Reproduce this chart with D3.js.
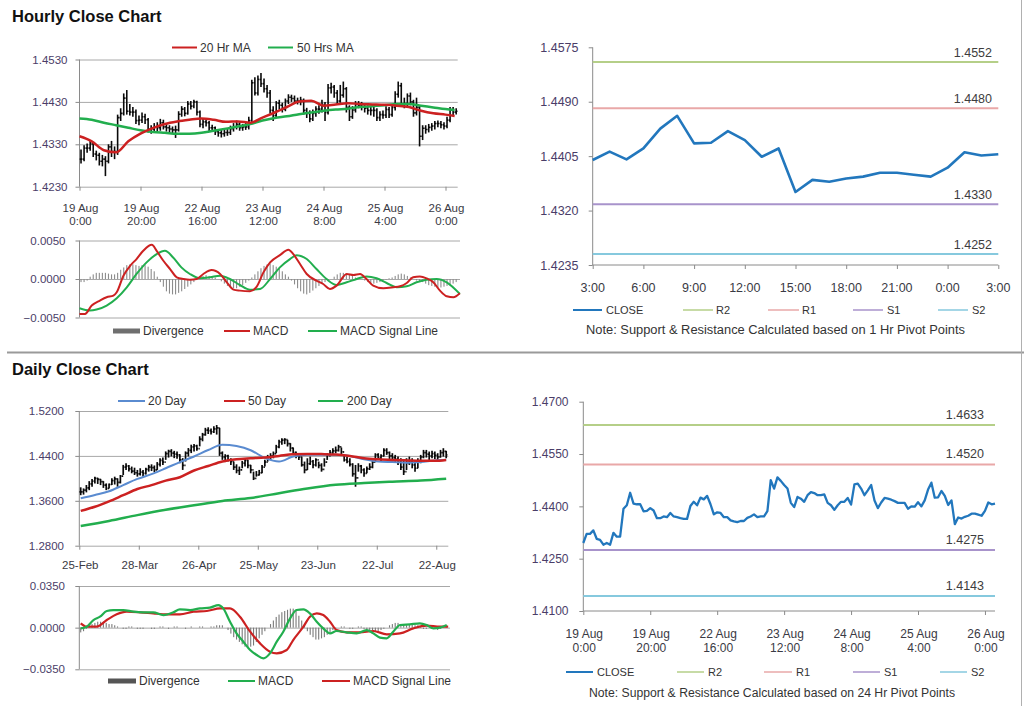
<!DOCTYPE html>
<html><head><meta charset="utf-8">
<script src="https://cdn.jsdelivr.net/npm/d3@7"></script>
<style>body{margin:0;background:#fff}svg{display:block}</style>
</head><body>
<svg id="chart" width="1024" height="706"></svg>
<script>
// ---------------- DATA ----------------
// Hourly (19 Aug 0:00 .. 26 Aug 3:00), 124 bars
const hourTickIdx = [0,20,40,60,80,100,120];
const hourLab1 = ["19 Aug","19 Aug","22 Aug","23 Aug","24 Aug","25 Aug","26 Aug"];
const hourLab2 = ["0:00","20:00","16:00","12:00","8:00","4:00","0:00"];
const hClose = [1.4295,1.4321,1.4321,1.4331,1.4307,1.4304,1.4290,1.4295,1.4290,1.4324,
1.4313,1.4313,1.4393,1.4403,1.4439,1.4408,1.4406,1.4406,1.4386,1.4387,
1.4395,1.4388,1.4366,1.4366,1.4371,1.4369,1.4381,1.4371,1.4369,1.4366,
1.4364,1.4364,1.4401,1.4413,1.4403,1.4425,1.4420,1.4430,1.4406,1.4377,
1.4383,1.4381,1.4369,1.4369,1.4360,1.4357,1.4355,1.4358,1.4358,1.4367,
1.4371,1.4377,1.4369,1.4371,1.4371,1.4386,1.4475,1.4451,1.4483,1.4473,
1.4461,1.4451,1.4410,1.4398,1.4427,1.4422,1.4413,1.4432,1.4441,1.4438,
1.4432,1.4432,1.4434,1.4410,1.4403,1.4390,1.4403,1.4413,1.4413,1.4424,
1.4405,1.4463,1.4465,1.4451,1.4432,1.4446,1.4461,1.4417,1.4395,1.4411,
1.4424,1.4422,1.4419,1.4415,1.4410,1.4410,1.4410,1.4393,1.4400,
1.4399,1.4412,1.4400,1.4417,1.4448,1.4468,1.4425,1.4426,1.4444,1.4430,1.4404,1.4417,1.4349,1.4368,1.4365,1.4370,1.4373,1.4379,1.4379,1.4376,1.4373,1.4387,1.4411,1.4406,1.4408];
const hHigh = [1.4318,1.4328,1.4332,1.4338,1.4335,1.4315,1.4310,1.4305,1.4302,1.4330,
1.4338,1.4325,1.4400,1.4415,1.4450,1.4458,1.4425,1.4418,1.4412,1.4398,
1.4405,1.4402,1.4392,1.4375,1.4380,1.4382,1.4390,1.4388,1.4378,1.4375,
1.4372,1.4374,1.4408,1.4420,1.4418,1.4432,1.4432,1.4435,1.4433,1.4410,
1.4392,1.4390,1.4385,1.4376,1.4372,1.4366,1.4364,1.4366,1.4368,1.4374,
1.4380,1.4386,1.4382,1.4378,1.4380,1.4395,1.4482,1.4488,1.4492,1.4498,
1.4485,1.4470,1.4458,1.4420,1.4432,1.4435,1.4428,1.4438,1.4448,1.4447,
1.4445,1.4440,1.4442,1.4438,1.4416,1.4410,1.4412,1.4420,1.4422,1.4435,
1.4430,1.4472,1.4475,1.4470,1.4458,1.4470,1.4478,1.4465,1.4422,1.4420,
1.4432,1.4432,1.4430,1.4426,1.4422,1.4420,1.4418,1.4415,1.4408,1.4410,
1.4420,1.4418,1.4425,1.4455,1.4478,1.4475,1.4440,1.4450,1.4452,1.4435,
1.4440,1.4420,1.4375,1.4375,1.4378,1.4380,1.4385,1.4386,1.4385,1.4382,
1.4395,1.4418,1.4418,1.4415];
const hLow = [1.4285,1.4290,1.4310,1.4315,1.4300,1.4292,1.4280,1.4278,1.4255,1.4285,
1.4300,1.4295,1.4305,1.4385,1.4398,1.4400,1.4398,1.4395,1.4378,1.4375,
1.4380,1.4378,1.4358,1.4355,1.4360,1.4360,1.4362,1.4365,1.4360,1.4356,
1.4355,1.4345,1.4360,1.4395,1.4396,1.4400,1.4412,1.4415,1.4398,1.4370,
1.4368,1.4372,1.4360,1.4360,1.4352,1.4348,1.4346,1.4348,1.4350,1.4352,
1.4360,1.4365,1.4362,1.4362,1.4364,1.4365,1.4380,1.4445,1.4445,1.4465,
1.4452,1.4440,1.4402,1.4385,1.4392,1.4412,1.4405,1.4408,1.4425,1.4430,
1.4425,1.4424,1.4422,1.4400,1.4392,1.4382,1.4385,1.4395,1.4402,1.4405,
1.4385,1.4400,1.4450,1.4440,1.4425,1.4428,1.4440,1.4405,1.4385,1.4390,
1.4405,1.4415,1.4410,1.4405,1.4400,1.4398,1.4395,1.4385,1.4385,1.4390,
1.4392,1.4392,1.4395,1.4410,1.4440,1.4418,1.4415,1.4420,1.4422,1.4395,
1.4398,1.4325,1.4340,1.4355,1.4358,1.4362,1.4365,1.4370,1.4368,1.4365,
1.4368,1.4382,1.4398,1.4400];
const hMaIdx = [0,4,8,12,16,20,24,28,32,36,40,44,48,52,56,60,64,68,72,76,80,84,88,92,96,100,104,108,112,116,120,123];
const hMa20 = [1.4349,1.4337,1.4316,1.4311,1.4337,1.4355,1.4368,1.4378,1.4384,1.4388,1.4391,1.4388,1.4383,1.4384,1.4381,1.4393,1.4405,1.4418,1.4431,1.4433,1.4421,1.4424,1.4427,1.4425,1.4424,1.4423,1.4421,1.4418,1.4409,1.4403,1.4400,1.4397];
const hMa50 = [1.4391,1.4388,1.4381,1.4375,1.4369,1.4363,1.4359,1.4357,1.4355,1.4355,1.4357,1.4362,1.4367,1.4372,1.4378,1.4386,1.4392,1.4396,1.4401,1.4405,1.4409,1.4412,1.4414,1.4418,1.4420,1.4422,1.4425,1.4425,1.4421,1.4417,1.4413,1.4411];
const hMacdIdx = [0,1.8,4,6.7,8.9,11.1,12.2,14.4,16.6,18.7,20.9,23.7,25.3,27.5,29.7,31.9,34.1,36.2,38.4,40.6,43.3,46.1,48.3,50.5,52.6,55.9,58.1,60.3,62.5,65.7,68.5,70.1,72.3,74.5,77.7,79.9,82.1,84.3,87.6,89.8,92,94.1,96.3,99.6,102.9,105.1,107.3,109.4,111.6,113.8,116,118.2,120.4,122.6,124.7];
const hMacd = [-0.00453,-0.00453,-0.00345,-0.00280,-0.00237,-0.00216,-0.00172,0.00043,0.00172,0.00259,0.00366,0.00444,0.00366,0.00237,0.00129,0.00022,0,-0.00009,0,0.00065,0.00116,0.00065,-0.00043,-0.00138,-0.00151,-0.00159,-0.00099,0.00086,0.00216,0.00310,0.00379,0.00323,0.00194,0.00065,-0.00022,-0.00065,-0.00129,-0.00086,0.00065,0.00052,0.00065,0,-0.00086,-0.00121,-0.00108,-0.00095,-0.00052,0.00022,0.00034,0.00009,-0.00043,-0.00151,-0.00224,-0.00237,-0.00185];
const hSigIdx = [0,3.4,5.6,8.9,12.2,15.5,18.7,22,25.3,28,30.7,33.4,36.2,39.5,42.8,46.1,49.3,52.6,55.9,59.2,62.5,65.7,69,71.2,74.5,77.7,81,84.3,87.6,90.9,94.1,97.4,100.7,104,107.3,110.5,113.8,117.1,120.4,124.7];
const hSignal = [-0.00379,-0.00409,-0.00397,-0.00345,-0.00250,-0.00108,0.00065,0.00216,0.00323,0.00366,0.00280,0.00151,0.00065,0.00009,0.00022,0.00043,0,-0.00078,-0.00138,-0.00129,0,0.00151,0.00259,0.00310,0.00259,0.00129,0,-0.00078,-0.00043,0,0.00034,0.00009,-0.00052,-0.00108,-0.00095,-0.00043,-0.00009,0,-0.00043,-0.00194];
const hDiv = [-0.0004,-0.0004,-0.0002,0.0003,0.0006,0.0008,0.0008,0.0008,0.0008,0.0007,0.0006,0.0006,0.0008,
0.0012,0.0015,0.0018,0.0019,0.0019,0.0018,0.0017,0.0018,0.0018,0.0016,0.0013,0.0010,0.0003,-0.0004,
-0.0010,-0.0016,-0.0019,-0.0020,-0.0020,-0.0018,-0.0016,-0.0013,-0.0010,-0.0007,-0.0004,
0.0001,0.0003,0.0004,0.0005,0.0004,0.0003,0.0002,0.0000,
-0.0003,-0.0006,-0.0009,-0.0011,-0.0012,-0.0012,-0.0010,-0.0008,-0.0005,-0.0002,0.0002,
0.0006,0.0010,0.0014,0.0017,0.0019,0.0020,0.0018,0.0016,0.0013,0.0010,0.0006,0.0003,
-0.0002,-0.0007,-0.0012,-0.0016,-0.0019,-0.0020,-0.0018,-0.0015,-0.0012,-0.0009,-0.0006,-0.0004,-0.0002,
0.0000,0.0003,0.0006,0.0008,0.0008,0.0007,0.0006,0.0004,0.0002,0.0001,0.0000,
-0.0002,-0.0004,-0.0005,-0.0006,-0.0005,-0.0004,-0.0002,-0.0001,
0.0001,0.0002,0.0004,0.0006,0.0007,0.0006,0.0004,0.0002,
0.0000,-0.0002,-0.0003,-0.0004,-0.0006,-0.0008,-0.0009,-0.0010,-0.0011,-0.0011,-0.0010,-0.0009,-0.0008,-0.0006,-0.0004];

// 1-hour pivot chart (25 Aug 3:00 .. 26 Aug 3:00)
const pivotHourLabels = ["3:00","6:00","9:00","12:00","15:00","18:00","21:00","0:00","3:00"];
const hourLevels = [{n:"R2",v:1.4552},{n:"R1",v:1.4480},{n:"S1",v:1.4330},{n:"S2",v:1.4252}];
const dayLevels = [{n:"R2",v:1.4633},{n:"R1",v:1.4520},{n:"S1",v:1.4275},{n:"S2",v:1.4143}];

// Daily (25 Feb .. 26 Aug), 130 bars
const dayTickIdx = [0,21,42,63,84,105,126];
const dayLabels = ["25-Feb","28-Mar","26-Apr","25-May","23-Jun","22-Jul","22-Aug"];
const dHigh = [1.3840,1.3821,1.3881,1.3950,1.3990,1.4030,1.4010,1.3990,1.3950,1.3910,
1.3910,1.4000,1.4030,1.4000,1.4060,1.4240,1.4270,1.4240,1.4210,1.4190,
1.4150,1.4180,1.4150,1.4190,1.4240,1.4250,1.4230,1.4290,1.4360,1.4370,
1.4480,1.4510,1.4520,1.4490,1.4480,1.4430,1.4360,1.4480,1.4540,1.4600,
1.4610,1.4600,1.4750,1.4810,1.4900,1.4910,1.4890,1.4930,1.4950,1.4900,
1.4480,1.4430,1.4420,1.4360,1.4300,1.4250,1.4210,1.4310,1.4360,1.4330,
1.4240,1.4120,1.4130,1.4150,1.4240,1.4330,1.4418,1.4448,1.4478,1.4597,
1.4687,1.4716,1.4716,1.4687,1.4627,1.4550,1.4478,1.4448,1.4388,1.4299,
1.4358,1.4388,1.4328,1.4358,1.4299,1.4269,1.4358,1.4448,1.4507,1.4537,
1.4567,1.4597,1.4550,1.4418,1.4388,1.4358,1.4269,1.4239,1.4269,1.4239,
1.4179,1.4209,1.4269,1.4328,1.4448,1.4448,1.4430,1.4537,1.4537,1.4478,
1.4448,1.4418,1.4388,1.4358,1.4328,1.4358,1.4388,1.4358,1.4299,1.4358,
1.4418,1.4507,1.4507,1.4478,1.4490,1.4478,1.4448,1.4507,1.4537,1.4490];
const dLow = [1.3700,1.3710,1.3750,1.3790,1.3850,1.3910,1.3900,1.3880,1.3830,1.3790,
1.3820,1.3880,1.3890,1.3850,1.3910,1.4060,1.4150,1.4120,1.4090,1.4060,
1.4030,1.4050,1.4030,1.4070,1.4120,1.4130,1.4110,1.4150,1.4210,1.4240,
1.4330,1.4370,1.4390,1.4360,1.4350,1.4270,1.4150,1.4300,1.4390,1.4450,
1.4480,1.4490,1.4570,1.4660,1.4760,1.4790,1.4780,1.4810,1.4780,1.4400,
1.4330,1.4290,1.4300,1.4240,1.4150,1.4090,1.4060,1.4180,1.4210,1.4180,
1.4090,1.3970,1.4030,1.4050,1.4090,1.4210,1.4299,1.4328,1.4358,1.4448,
1.4537,1.4597,1.4610,1.4567,1.4478,1.4418,1.4358,1.4328,1.4209,1.4090,
1.4149,1.4239,1.4179,1.4209,1.4179,1.4119,1.4209,1.4328,1.4388,1.4418,
1.4448,1.4478,1.4418,1.4299,1.4269,1.4209,1.4030,1.3851,1.4119,1.4090,
1.4030,1.4090,1.4149,1.4179,1.4299,1.4328,1.4310,1.4388,1.4418,1.4346,
1.4310,1.4287,1.4239,1.4149,1.4060,1.4149,1.4239,1.4179,1.4119,1.4179,
1.4269,1.4358,1.4370,1.4328,1.4358,1.4346,1.4328,1.4370,1.4388,1.4358];
const dClose = [1.3760,1.3790,1.3830,1.3900,1.3950,1.4000,1.3980,1.3940,1.3880,1.3820,
1.3890,1.3960,1.3990,1.3930,1.4040,1.4200,1.4220,1.4170,1.4130,1.4100,
1.4080,1.4110,1.4090,1.4160,1.4200,1.4190,1.4150,1.4250,1.4320,1.4290,
1.4440,1.4480,1.4450,1.4430,1.4420,1.4330,1.4230,1.4450,1.4500,1.4560,
1.4580,1.4530,1.4700,1.4780,1.4860,1.4850,1.4830,1.4880,1.4900,1.4450,
1.4380,1.4400,1.4330,1.4300,1.4200,1.4140,1.4150,1.4270,1.4320,1.4230,
1.4150,1.4000,1.4060,1.4100,1.4200,1.4290,1.4380,1.4400,1.4440,1.4560,
1.4650,1.4680,1.4690,1.4620,1.4540,1.4460,1.4400,1.4380,1.4240,1.4150,
1.4260,1.4300,1.4240,1.4330,1.4230,1.4160,1.4290,1.4410,1.4460,1.4490,
1.4500,1.4560,1.4470,1.4330,1.4300,1.4250,1.4080,1.4010,1.4220,1.4150,
1.4090,1.4170,1.4200,1.4290,1.4420,1.4360,1.4400,1.4500,1.4460,1.4400,
1.4370,1.4340,1.4290,1.4200,1.4120,1.4280,1.4310,1.4240,1.4180,1.4300,
1.4380,1.4460,1.4430,1.4400,1.4440,1.4410,1.4380,1.4460,1.4480,1.4420];
const dMaIdx = [0,5,10,15,20,25,30,35,40,45,50,55,60,65,70,75,80,85,90,95,100,105,110,115,120,125,129];
const dMa20 = [1.3645,1.3705,1.3770,1.3880,1.3990,1.4075,1.4180,1.4290,1.4390,1.4505,1.4600,1.4575,1.4500,1.4365,1.4300,1.4390,1.4420,1.4420,1.4420,1.4400,1.4340,1.4300,1.4290,1.4280,1.4290,1.4320,1.4330];
const dMa50 = [1.3420,1.3493,1.3590,1.3700,1.3810,1.3880,1.3960,1.4020,1.4140,1.4220,1.4300,1.4340,1.4358,1.4372,1.4400,1.4428,1.4435,1.4432,1.4425,1.4400,1.4360,1.4340,1.4328,1.4320,1.4312,1.4312,1.4328];
const dMa200Idx = [0,10,20,30,40,50,60,70,80,90,100,110,120,129];
const dMa200 = [1.3152,1.3240,1.3345,1.3440,1.3520,1.3598,1.3650,1.3735,1.3820,1.3885,1.3915,1.3940,1.3962,1.3995];
const dMacdIdx = [0,2.1,4.5,6.8,9.2,11.5,15,18.6,22.1,25.6,29.2,32.7,35,38.6,42.1,45.6,48.6,50.3,52.7,55,57.4,59.8,62.1,64.5,66.8,69.2,71.5,73.9,76.2,78.6,80.9,83.3,85.6,88,90.3,93.8,97.4,100.9,103.3,105.6,108,110.3,112.7,116.2,119.7,122.1,124.5,126.8,129.2];
const dMacd = [-0.0006,0.0008,0.0064,0.0092,0.0140,0.0148,0.0148,0.0134,0.0129,0.0129,0.0106,0.0129,0.0154,0.0148,0.0162,0.0168,0.0190,0.0162,0.0050,-0.0048,-0.0118,-0.0188,-0.0230,-0.0258,-0.0216,-0.0118,-0.0034,0.0078,0.0148,0.0154,0.0120,0.0050,-0.0006,-0.0048,-0.0028,-0.0039,-0.0048,-0.0020,-0.0048,-0.0084,-0.0090,-0.0034,0.0022,0.0028,0.0036,0.0022,-0.0006,0,0.0022];
const dSigIdx = [0,2.1,5.6,9.2,12.7,16.2,20.9,25.6,30.3,35,39.8,44.5,49.2,52.7,56.2,59.8,63.3,66.8,69.2,72.7,75,78.6,80.9,83.3,85.6,88,90.3,93.8,98.5,103.3,108,112.7,117.4,122.1,126.8,129.7];
const dSignal = [0.0036,0.0008,0.0008,0.0064,0.0112,0.0134,0.0129,0.0120,0.0112,0.0112,0.0134,0.0140,0.0162,0.0162,0.0092,-0.0034,-0.0132,-0.0202,-0.0216,-0.0188,-0.0104,0.0008,0.0092,0.0120,0.0106,0.0050,-0.0020,-0.0039,-0.0039,-0.0028,-0.0056,-0.0048,-0.0006,0.0017,0.0008,0.0008];
const dDiv = [-0.004,-0.003,-0.001,0.002,0.003,0.004,0.005,0.005,0.005,0.004,0.003,0.003,0.002,0.001,
0.000,-0.001,-0.001,0.001,0.001,0.000,-0.001,-0.001,-0.001,0.000,0.000,-0.001,-0.001,0.000,0.001,0.001,0.000,-0.001,0.000,0.001,0.001,0.000,0.000,-0.001,0.000,0.001,0.000,0.000,0.001,0.001,0.000,0.000,0.001,0.001,0.002,
0.002,0.002,0.000,-0.002,-0.005,-0.008,
-0.010,-0.012,-0.014,-0.016,-0.017,-0.016,-0.015,-0.012,-0.009,-0.006,-0.003,
0.000,0.003,0.006,0.009,0.011,0.013,0.014,0.015,0.016,0.016,0.014,0.010,0.006,0.002,
-0.003,-0.006,-0.008,-0.010,-0.010,-0.009,-0.008,-0.006,-0.004,-0.002,
-0.001,0.000,0.001,0.001,0.000,-0.001,-0.001,0.000,0.001,0.001,
-0.001,-0.002,-0.002,-0.002,-0.003,-0.003,-0.002,-0.001,0.000,0.002,0.003,
0.004,0.004,0.003,0.003,0.002,0.003,0.003,0.002,0.002,0.001,
-0.001,-0.001,0.000,0.001,-0.001,-0.002,-0.001,0.000,0.001];

// ---------------- DRAWING ----------------
const svg = d3.select('#chart');
const FONT = '"Liberation Sans", Arial, Helvetica, sans-serif';
const AXIS = '#8a8a8a', GRID = '#a8a8a8', YLAB = '#4a3d68', XLAB = '#3a3a44', TXT = '#333';
const fmt4 = d3.format('.4f');

function txt(x, y, s, size, fill, anchor, weight) {
  return svg.append('text').attr('x', x).attr('y', y).text(s)
    .attr('font-size', size).attr('fill', fill || TXT)
    .attr('text-anchor', anchor || 'start').attr('font-weight', weight || 'normal')
    .attr('font-family', FONT);
}
function hline(x1, x2, y, color, w) {
  return svg.append('line').attr('x1', x1).attr('x2', x2).attr('y1', y).attr('y2', y)
    .attr('stroke', color).attr('stroke-width', w || 1);
}
function vline(x, y1, y2, color, w) {
  return svg.append('line').attr('x1', x).attr('x2', x).attr('y1', y1).attr('y2', y2)
    .attr('stroke', color).attr('stroke-width', w || 1);
}
function yAxis(scale, vals, x0, gridTo, labelEnd, size) {
  if (gridTo) {
    const gg = svg.append('g').attr('transform', `translate(${x0},0)`)
      .call(d3.axisLeft(scale).tickValues(vals).tickFormat('').tickSize(-(gridTo - x0)));
    gg.select('.domain').remove();
    gg.selectAll('.tick line').attr('stroke', GRID);
  }
  const g = svg.append('g').attr('transform', `translate(${x0},0)`)
    .call(d3.axisLeft(scale).tickValues(vals).tickFormat(fmt4).tickSize(4).tickPadding(x0 - labelEnd - 4));
  g.attr('font-family', FONT).attr('font-size', size);
  g.select('.domain').remove();
  g.selectAll('.tick line').attr('stroke', AXIS);
  g.selectAll('.tick text').attr('fill', YLAB);
  vline(x0, scale.range()[0], scale.range()[1], AXIS, 1);
}
function xTicks(scale, vals, y0) {
  const g = svg.append('g').attr('transform', `translate(0,${y0})`)
    .call(d3.axisBottom(scale).tickValues(vals).tickFormat('').tickSize(4));
  g.select('.domain').remove();
  g.selectAll('.tick line').attr('stroke', AXIS);
}
function ohlc(xs, ys, hi, lo, cl, half, w) {
  const data = cl.map((c, i) => ({ i, c, h: hi[i], l: lo[i], o: i ? cl[i - 1] : c }));
  const g = svg.append('g').attr('stroke', '#0a0a0a').attr('stroke-width', w);
  const b = g.selectAll('g').data(data).join('g');
  b.append('line').attr('x1', d => xs(d.i + 0.5)).attr('x2', d => xs(d.i + 0.5))
    .attr('y1', d => ys(d.h)).attr('y2', d => ys(d.l));
  b.append('line').attr('x1', d => xs(d.i + 0.5) - half).attr('x2', d => xs(d.i + 0.5))
    .attr('y1', d => ys(d.o)).attr('y2', d => ys(d.o));
  b.append('line').attr('x1', d => xs(d.i + 0.5)).attr('x2', d => xs(d.i + 0.5) + half)
    .attr('y1', d => ys(d.c)).attr('y2', d => ys(d.c));
}
function series(xs, ys, idx, vals, color, w, curve) {
  const line = d3.line().x((d, i) => xs(idx[i])).y(d => ys(d)).curve(curve || d3.curveMonotoneX);
  svg.append('path').attr('d', line(vals)).attr('fill', 'none')
    .attr('stroke', color).attr('stroke-width', w).attr('stroke-linejoin', 'round');
}
function histogram(xs, ys, vals, color, w) {
  svg.append('g').selectAll('rect').data(vals).join('rect')
    .attr('x', (d, i) => xs(i + 0.5) - w / 2).attr('width', w)
    .attr('y', d => Math.min(ys(d), ys(0))).attr('height', d => Math.abs(ys(d) - ys(0)))
    .attr('fill', color);
}
function legLine(x1, x2, y, color, w, label, tx, size) {
  hline(x1, x2, y, color, w);
  txt(tx, y + 4, label, size, TXT);
}

const RED = '#cc2121', GREEN = '#22ae4e', BLUE = '#5a8bd0', CLOSEC = '#2277bd';
const R2C = '#b5cf88', R1C = '#e9a8a8', S1C = '#a893cb', S2C = '#86c9de';

// ---- Titles & frame ----
txt(12, 22, 'Hourly Close Chart', 16.5, '#111', 'start', 'bold');
txt(12, 375, 'Daily Close Chart', 16.5, '#111', 'start', 'bold');
hline(7, 1024, 352.5, '#9a9a9a', 2);
vline(1021.5, 0, 706, '#b0b0b0', 1);

// ---- Hourly price panel ----
const xH = d3.scaleLinear().domain([0, 124]).range([79.5, 457.7]);
const yH = d3.scaleLinear().domain([1.4230, 1.4530]).range([186.7, 59.5]);
yAxis(yH, [1.4230, 1.4330, 1.4430, 1.4530], 79.5, 457.7, 67.5, 11.5);
xTicks(xH, hourTickIdx, 186.7);
hourTickIdx.forEach((t, k) => {
  txt(xH(t) + 1, 211.5, hourLab1[k], 11.5, XLAB, 'middle');
  txt(xH(t) + 1, 225, hourLab2[k], 11.5, XLAB, 'middle');
});
ohlc(xH, yH, hHigh, hLow, hClose, 1.3, 1.6);
series(xH, yH, hMaIdx, hMa50, GREEN, 2.5);
series(xH, yH, hMaIdx, hMa20, RED, 2.5);
legLine(172, 197, 47.5, RED, 2, '20 Hr MA', 200, 12);
legLine(268, 293, 47.5, GREEN, 2, '50 Hrs MA', 297, 12);

// ---- Hourly MACD panel ----
const yHM = d3.scaleLinear().domain([-0.005, 0.005]).range([317.5, 240.5]);
yAxis(yHM, [-0.005, 0, 0.005], 79.5, 460, 65.5, 11.5);
histogram(xH, yHM, hDiv, '#8c8c8c', 1.1);
series(xH, yHM, hSigIdx, hSignal, GREEN, 2);
series(xH, yHM, hMacdIdx, hMacd, RED, 2);
svg.append('rect').attr('x', 113).attr('y', 328.5).attr('width', 27).attr('height', 5).attr('fill', '#6f6f6f');
txt(143, 335, 'Divergence', 12, TXT);
legLine(224, 250, 331, RED, 2, 'MACD', 253, 12);
legLine(308, 337, 331, GREEN, 2, 'MACD  Signal Line', 340, 12);

// ---- Hourly pivot panel (top right) ----
const xT = d3.scaleLinear().domain([0, 24]).range([592.7, 998.3]);
const yT = d3.scaleLinear().domain([1.4235, 1.4575]).range([265, 47.3]);
const lastDay = hClose.slice(hClose.length - 25);
yAxis(yT, [1.4235, 1.4320, 1.4405, 1.4490, 1.4575], 592.7, null, 578.5, 12.5);
hline(592.7, 998.3, 265, AXIS, 1);
xTicks(xT, d3.range(0, 25, 3), 265);
pivotHourLabels.forEach((s, k) => txt(xT(k * 3), 291.5, s, 12.5, XLAB, 'middle'));
const lvColors = [R2C, R1C, S1C, S2C];
hourLevels.forEach((L, k) => {
  hline(592.7, 998.3, yT(L.v), lvColors[k], 2);
  txt(992, yT(L.v) - 5, fmt4(L.v), 12.5, '#3d3d3d', 'end');
});
series(xT, yT, d3.range(25), lastDay, CLOSEC, 2.6, d3.curveLinear);
legLine(573, 602, 310, CLOSEC, 2, 'CLOSE', 606, 11);
legLine(683, 713, 310, R2C, 1.5, 'R2', 716, 11);
legLine(768, 799, 310, R1C, 1.5, 'R1', 802, 11);
legLine(853, 883, 310, S1C, 1.5, 'S1', 887, 11);
legLine(938, 968, 310, S2C, 1.5, 'S2', 972, 11);
txt(586, 334, 'Note: Support & Resistance Calculated based on 1 Hr Pivot Points', 12, '#333')
  .attr('textLength', 379).attr('lengthAdjust', 'spacingAndGlyphs');

// ---- Daily price panel ----
const xD = d3.scaleLinear().domain([0, 130]).range([79.3, 447.6]);
const yD = d3.scaleLinear().domain([1.28, 1.52]).range([545.7, 411]);
yAxis(yD, [1.28, 1.36, 1.44, 1.52], 79.3, 448.3, 64, 11.5);
xTicks(xD, dayTickIdx, 545.7);
dayTickIdx.forEach((t, k) => txt(xD(t) + 1, 569, dayLabels[k], 11.5, XLAB, 'middle'));
ohlc(xD, yD, dHigh, dLow, dClose, 1.2, 1.7);
const dIdx = a => a.map(v => v + 0.5);
series(xD, yD, dIdx(dMa200Idx), dMa200, GREEN, 2.5);
series(xD, yD, dIdx(dMaIdx), dMa20, BLUE, 2);
series(xD, yD, dIdx(dMaIdx), dMa50, RED, 2.5);
legLine(118, 145, 401, BLUE, 2, '20 Day', 148, 12);
legLine(224, 245, 401, RED, 2, '50 Day', 248, 12);
legLine(318, 343, 401, GREEN, 2, '200 Day', 347, 12);

// ---- Daily MACD panel ----
const yDM = d3.scaleLinear().domain([-0.035, 0.035]).range([669.3, 586]);
yAxis(yDM, [-0.035, 0, 0.035], 79.3, 450, 65, 11.5);
histogram(xD, yDM, dDiv, '#7a7a7a', 1.1);
series(xD, yDM, dIdx(dSigIdx), dSignal, RED, 2.2);
series(xD, yDM, dIdx(dMacdIdx), dMacd, GREEN, 2.2);
svg.append('rect').attr('x', 108).attr('y', 678.5).attr('width', 28).attr('height', 5).attr('fill', '#555');
txt(139, 685, 'Divergence', 12, TXT);
legLine(228, 255, 681, GREEN, 2, 'MACD', 258, 12);
legLine(322, 350, 681, RED, 2, 'MACD  Signal Line', 353, 12);

// ---- Daily pivot panel (bottom right) ----
const xB = d3.scaleLinear().domain([0, 123]).range([583.3, 995]);
const yB = d3.scaleLinear().domain([1.41, 1.47]).range([611, 401.7]);
yAxis(yB, [1.41, 1.425, 1.44, 1.455, 1.47], 583.3, null, 568.5, 12);
hline(583.3, 995, 611, AXIS, 1);
xTicks(xB, hourTickIdx, 611);
hourTickIdx.forEach((t, k) => {
  txt(xB(t) + 1, 638, hourLab1[k], 12, XLAB, 'middle');
  txt(xB(t) + 1, 651.5, hourLab2[k], 12, XLAB, 'middle');
});
dayLevels.forEach((L, k) => {
  hline(583.3, 995, yB(L.v), lvColors[k], 2);
  txt(984, yB(L.v) - 6, fmt4(L.v), 12.5, '#3d3d3d', 'end');
});
series(xB, yB, d3.range(hClose.length), hClose, CLOSEC, 2.3, d3.curveLinear);
legLine(566, 593, 672, CLOSEC, 2, 'CLOSE', 597, 11);
legLine(677, 704, 672, R2C, 1.5, 'R2', 708, 11);
legLine(764, 792, 672, R1C, 1.5, 'R1', 796, 11);
legLine(853, 880, 672, S1C, 1.5, 'S1', 884, 11);
legLine(940, 967, 672, S2C, 1.5, 'S2', 971, 11);
txt(589, 697, 'Note: Support & Resistance Calculated based on 24 Hr Pivot Points', 12, '#333')
  .attr('textLength', 366).attr('lengthAdjust', 'spacingAndGlyphs');
</script>
</body></html>
